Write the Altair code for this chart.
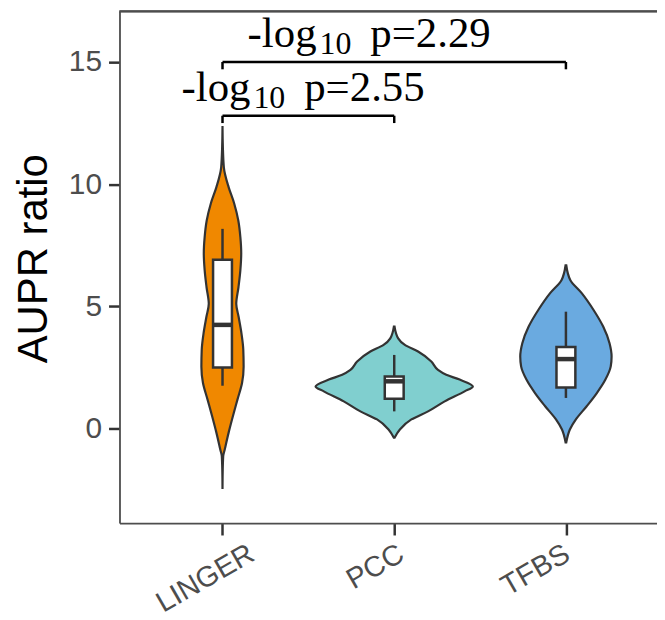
import altair as alt
import pandas as pd

# ---- data ----
categories = ["LINGER", "PCC", "TFBS"]
colors = ["#F08800", "#80CFCF", "#6AAAE0"]
positions = [1, 2, 3]

# violin outlines: y value and half-width (in units of category spacing)
linger_y = [12.38, 11.55, 10.68, 9.87, 9.21, 8.51, 7.83, 7.17, 6.48, 5.78, 5.10, 4.56, 3.91, 3.22, 2.53, 1.87, 1.18, 0.49, -0.16, -0.86, -1.14, -1.8, -2.48]
linger_w = [0.0, 0.002, 0.008, 0.036, 0.068, 0.092, 0.104, 0.109, 0.104, 0.093, 0.080, 0.094, 0.110, 0.121, 0.123, 0.114, 0.087, 0.060, 0.036, 0.013, 0.004, 0.001, 0.0]

pcc_y = [4.17, 3.69, 3.42, 3.15, 2.74, 2.40, 2.20, 2.00, 1.72, 1.52, 1.11, 0.70, 0.37, -0.04, -0.38]
pcc_w = [0.002, 0.023, 0.062, 0.139, 0.216, 0.255, 0.303, 0.381, 0.458, 0.410, 0.294, 0.197, 0.100, 0.033, 0.002]

tfbs_y = [6.68, 6.07, 5.54, 4.85, 4.17, 3.49, 2.95, 2.54, 2.00, 1.45, 0.91, 0.37, -0.04, -0.57]
tfbs_w = [0.002, 0.026, 0.092, 0.161, 0.217, 0.254, 0.266, 0.261, 0.230, 0.180, 0.121, 0.058, 0.023, 0.002]

# box plot statistics
whisker_low = [1.75, 0.70, 1.25]
q1 = [2.50, 1.22, 1.68]
median = [4.24, 1.93, 2.84]
q3 = [6.91, 2.13, 3.33]
whisker_high = [8.17, 3.01, 4.78]

# significance brackets
br_start = [1, 1]
br_end = [2, 3]
br_y = [12.8, 15.0]
br_pvalue = ["2.55", "2.29"]
br_label_x = [1.528, 1.913]

# ---- tables ----
rows = []
for cat, pos, ys, ws in zip(categories, positions, [linger_y, pcc_y, tfbs_y], [linger_w, pcc_w, tfbs_w]):
    for yv, wv in zip(ys, ws):
        rows.append({"cat": cat, "y": yv, "xl": pos - wv, "xr": pos + wv})
violin_df = pd.DataFrame(rows)

BOX_HALF = 0.055
box_df = pd.DataFrame({
    "cat": categories, "pos": positions,
    "lo": whisker_low, "q1": q1, "med": median, "q3": q3, "hi": whisker_high,
})
box_df["bx1"] = box_df["pos"] - BOX_HALF
box_df["bx2"] = box_df["pos"] + BOX_HALF

TIP = 0.3
br_df = pd.DataFrame({"x1": br_start, "x2": br_end, "y": br_y, "pv": br_pvalue, "lx": br_label_x})
br_df["ytip"] = br_df["y"] - TIP
br_df["ytext"] = br_df["y"] + 0.6
br_df["t1"] = "-log"
br_df["t2"] = "10"
br_df["t3"] = "p=" + br_df["pv"]

W, H = 540, 514
PX_PER_CAT = 172.5
xscale = alt.Scale(domain=[0.4, 0.4 + W / PX_PER_CAT], nice=False, zero=False)
yscale = alt.Scale(domain=[-3.87, 17.07], nice=False, zero=False)

labels_expr = "datum.value == 1 ? 'LINGER' : datum.value == 2 ? 'PCC' : 'TFBS'"

x_axis = alt.Axis(values=positions, labelExpr=labels_expr, title=None, grid=False,
                  labelAngle=330, labelAlign="right", labelBaseline="top",
                  labelOffset={"condition": [
                      {"test": "datum.value == 1", "value": 22},
                      {"test": "datum.value == 3", "value": -6}], "value": 0},
                  labelPadding=4, labelFontSize=29,
                  labelColor="#4d4d4d", labelFont="Liberation Sans",
                  tickSize=12, tickWidth=2.5, tickColor="#333333",
                  domainColor="#4d4d4d", domainWidth=1.8)
y_axis = alt.Axis(values=[0, 5, 10, 15], title="AUPR ratio", grid=False,
                  labelFontSize=30, labelColor="#4d4d4d", labelFont="Liberation Sans",
                  labelPadding=7, tickSize=11, tickWidth=2.5, tickColor="#333333",
                  domainColor="#4d4d4d", domainWidth=1.8,
                  titleFont="Liberation Sans", titleFontSize=42, titleFontWeight="normal",
                  titleColor="#000000", titleAngle=270, titleX=-86, titleY=248,
                  titleAlign="center", titleBaseline="middle")

violin = alt.Chart(violin_df).mark_area(
    orient="horizontal", interpolate="monotone", stroke="#333333", strokeWidth=2.2, opacity=1
).encode(
    y=alt.Y("y:Q", scale=yscale, axis=y_axis),
    x=alt.X("xl:Q", scale=xscale, axis=x_axis),
    x2="xr:Q",
    color=alt.Color("cat:N", scale=alt.Scale(domain=categories, range=colors), legend=None),
    detail="cat:N",
)

whisk_lo = alt.Chart(box_df).mark_rule(color="#333333", strokeWidth=2.5).encode(
    x=alt.X("pos:Q", scale=xscale), y=alt.Y("lo:Q", scale=yscale), y2="q1:Q")
whisk_hi = alt.Chart(box_df).mark_rule(color="#333333", strokeWidth=2.5).encode(
    x=alt.X("pos:Q", scale=xscale), y=alt.Y("q3:Q", scale=yscale), y2="hi:Q")
box = alt.Chart(box_df).mark_rect(fill="white", stroke="#333333", strokeWidth=2.5).encode(
    x=alt.X("bx1:Q", scale=xscale), x2="bx2:Q",
    y=alt.Y("q1:Q", scale=yscale), y2="q3:Q")
med = alt.Chart(box_df).mark_rule(color="#333333", strokeWidth=4.5).encode(
    x=alt.X("bx1:Q", scale=xscale), x2="bx2:Q", y=alt.Y("med:Q", scale=yscale))

br_h = alt.Chart(br_df).mark_rule(color="#000000", strokeWidth=2.5).encode(
    x=alt.X("x1:Q", scale=xscale), x2="x2:Q", y=alt.Y("y:Q", scale=yscale))
br_l = alt.Chart(br_df).mark_rule(color="#000000", strokeWidth=2.5).encode(
    x=alt.X("x1:Q", scale=xscale), y=alt.Y("ytip:Q", scale=yscale), y2="y:Q")
br_r = alt.Chart(br_df).mark_rule(color="#000000", strokeWidth=2.5).encode(
    x=alt.X("x2:Q", scale=xscale), y=alt.Y("ytip:Q", scale=yscale), y2="y:Q")

FONT = "Liberation Serif"
txt1 = alt.Chart(br_df).mark_text(font=FONT, fontSize=43, color="#000000",
                                  baseline="alphabetic", align="right", dx=-63).encode(
    x=alt.X("lx:Q", scale=xscale), y=alt.Y("ytext:Q", scale=yscale), text="t1:N")
txt2 = alt.Chart(br_df).mark_text(font=FONT, fontSize=32, color="#000000",
                                  baseline="alphabetic", align="left", dx=-60, dy=7).encode(
    x=alt.X("lx:Q", scale=xscale), y=alt.Y("ytext:Q", scale=yscale), text="t2:N")
txt3 = alt.Chart(br_df).mark_text(font=FONT, fontSize=43, color="#000000",
                                  baseline="alphabetic", align="left", dx=-9).encode(
    x=alt.X("lx:Q", scale=xscale), y=alt.Y("ytext:Q", scale=yscale), text="t3:N")

top_frame = alt.Chart(box_df).mark_rule(color="#4d4d4d", strokeWidth=1.8).encode(
    x=alt.value(0), x2=alt.value(W), y=alt.value(0))

chart = alt.layer(violin, whisk_lo, whisk_hi, box, med, br_h, br_l, br_r,
                  txt1, txt2, txt3, top_frame).properties(
    width=W, height=H,
    autosize=alt.AutoSizeParams(type="none"),
    padding={"left": 112, "top": 2, "right": 0, "bottom": 96},
).configure_view(stroke=None).configure(background="white")

chart.save("out.html", embed_options={"renderer": "svg", "actions": False})
